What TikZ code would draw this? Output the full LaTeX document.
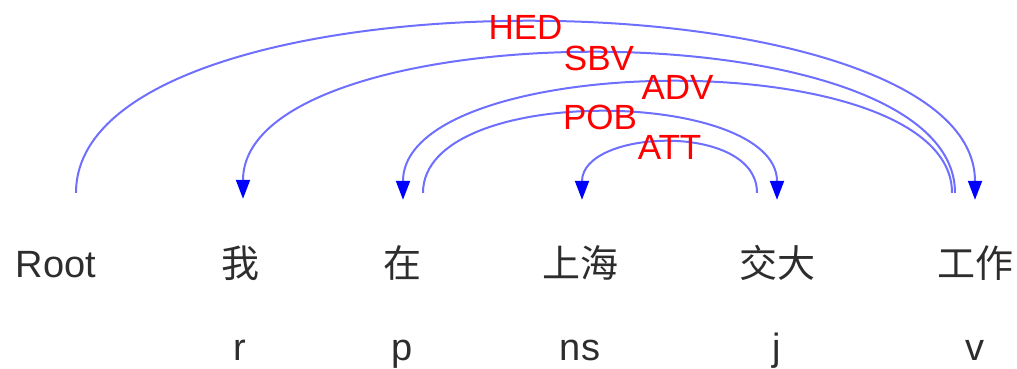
\documentclass[tikz,border=0pt]{standalone}
\usepackage{fontspec}
\setmainfont{Liberation Sans}
\newfontfamily\cjk{Noto Sans CJK SC}
\usetikzlibrary{positioning,arrows.meta}
\definecolor{arcblue}{RGB}{110,110,255}
\definecolor{wordgray}{RGB}{45,45,45}

\begin{document}
\begin{tikzpicture}[x=1pt,y=1pt,on grid,
word/.style ={font=\fontsize{38}{44}\selectfont, text=wordgray,
text height=32pt, text depth=8pt, inner sep=0pt},
deparc/.style ={draw=arcblue, line width=2pt,
-{Triangle[width=14pt,length=19pt,color=blue]}},
deprel/.style ={midway, yshift=-4pt, text=red, inner sep=0pt,
font=\fontsize{35}{40}\selectfont}]
\useasboundingbox (0,0) rectangle (1017,368);
% words
\node[word] (root) at (56,103) {Root};
\node[word] (wo) [right =184pt of root] {\cjk 我};
\node[word] (zai) [right =162pt of wo] {\cjk 在};
\node[word] (shanghai) [right =178pt of zai] {\cjk 上海};
\node[word] (jiaoda) [right =197pt of shanghai] {\cjk 交大};
\node[word] (gongzuo) [right =198pt of jiaoda] {\cjk 工作};
% tags
\node[word] (r) [below =83pt of wo] {r};
\node[word] (p) [below =83pt of zai] {p};
\node[word] (ns) [below =83pt of shanghai] {ns};
\node[word] (j) [below =83pt of jiaoda] {j};
\node[word] (v) [below =83pt of gongzuo] {v};
% arcs
\draw[deparc] ([shift={(20,52)}]root.north) .. controls +(0,231) and +(0,231) .. ([shift={(0,45)}]gongzuo.north) node[deprel] {HED};
\draw[deparc] ([shift={(-20,52)}]gongzuo.north) .. controls +(0,189) and +(0,189) .. ([shift={(3,46)}]wo.north) node[deprel] {SBV};
\draw[deparc] ([shift={(-23,52)}]gongzuo.north) .. controls +(0,151) and +(0,151) .. ([shift={(1,45)}]zai.north) node[deprel] {ADV};
\draw[deparc] ([shift={(21,52)}]zai.north) .. controls +(0,111) and +(0,111) .. ([shift={(0,45)}]jiaoda.north) node[deprel] {POB};
\draw[deparc] ([shift={(-20,52)}]jiaoda.north) .. controls +(0,71) and +(0,71) .. ([shift={(2,45)}]shanghai.north) node[deprel] {ATT};
\end{tikzpicture}
\end{document}
